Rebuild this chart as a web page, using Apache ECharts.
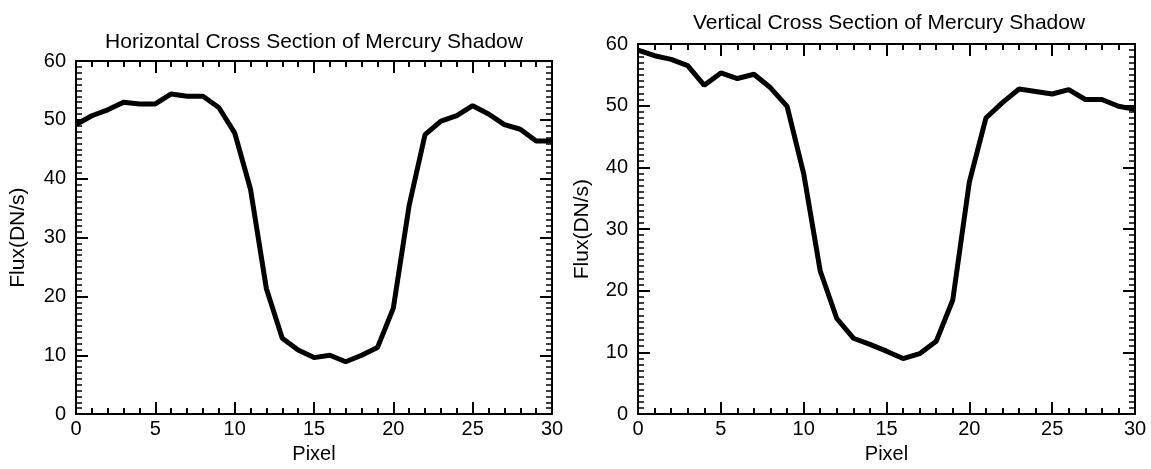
<!DOCTYPE html>
<html>
<head>
<meta charset="utf-8">
<title>Mercury Shadow Cross Sections</title>
<script src="https://cdn.jsdelivr.net/npm/echarts@6/dist/echarts.min.js"></script>
<style>
  html, body { margin: 0; padding: 0; background: #fff; }
  #main { width: 1151px; height: 469px; }
</style>
</head>
<body>
<div id="main"></div>
<script>
// data
var pixel = [0, 1, 2, 3, 4, 5, 6, 7, 8, 9, 10, 11, 12, 13, 14, 15, 16, 17, 18, 19, 20, 21, 22, 23, 24, 25, 26, 27, 28, 29, 30];
var horizFlux = [49.2, 50.7, 51.7, 53.0, 52.7, 52.7, 54.4, 54.0, 54.0, 52.1, 47.8, 38.2, 21.3, 12.9, 10.9, 9.6, 10.0, 8.9, 10.0, 11.3, 18.0, 35.5, 47.5, 49.8, 50.7, 52.4, 51.0, 49.2, 48.4, 46.4, 46.4];
var vertFlux = [59.0, 58.1, 57.5, 56.5, 53.3, 55.3, 54.4, 55.1, 52.9, 49.9, 39.0, 23.2, 15.5, 12.3, 11.3, 10.2, 9.0, 9.8, 11.8, 18.5, 37.6, 48.0, 50.5, 52.7, 52.3, 51.9, 52.6, 51.0, 51.0, 49.9, 49.4];
var titles = ['Horizontal Cross Section of Mercury Shadow', 'Vertical Cross Section of Mercury Shadow'];
var xName = 'Pixel';
var yName = 'Flux(DN/s)';

var font = 'Liberation Sans, Arial, Helvetica, sans-serif';

function pairs(xs, ys) {
  return xs.map(function (x, i) { return [x, ys[i]]; });
}

// one side of the boxed IDL-style frame
function xAx(grid, pos) {
  var main = pos === 'bottom';
  return {
    type: 'value', gridIndex: grid, position: pos,
    min: 0, max: 30, interval: 5,
    name: main ? xName : '', nameLocation: 'middle', nameGap: 27,
    nameTextStyle: { color: '#000', fontSize: 20, fontFamily: font },
    axisLine: { show: true, onZero: false, lineStyle: { color: '#000', width: 2 } },
    axisTick: { show: true, inside: true, length: 12, lineStyle: { color: '#000', width: 2 } },
    minorTick: { show: true, splitNumber: 5, length: 6, lineStyle: { color: '#000', width: 2 } },
    axisLabel: { show: main, margin: 5, color: '#000', fontSize: 20, fontFamily: font },
    splitLine: { show: false }
  };
}

function yAx(grid, pos, gap) {
  var main = pos === 'left';
  return {
    type: 'value', gridIndex: grid, position: pos,
    min: 0, max: 60, interval: 10,
    name: main ? yName : '', nameLocation: 'middle', nameGap: gap,
    nameTextStyle: { color: '#000', fontSize: 21, fontFamily: font },
    axisLine: { show: true, onZero: false, lineStyle: { color: '#000', width: 2 } },
    axisTick: { show: true, inside: true, length: 12, lineStyle: { color: '#000', width: 2 } },
    minorTick: { show: true, splitNumber: 10, length: 6, lineStyle: { color: '#000', width: 1.5 } },
    axisLabel: { show: main, margin: 10, color: '#000', fontSize: 20, fontFamily: font },
    splitLine: { show: false }
  };
}

var option = {
  backgroundColor: '#fff',
  animation: false,
  title: [
    { text: titles[0], left: 309, top: 27, textAlign: 'center',
      textStyle: { color: '#000', fontSize: 21, fontWeight: 'normal', fontFamily: font } },
    { text: titles[1], left: 884, top: 8, textAlign: 'center',
      textStyle: { color: '#000', fontSize: 21, fontWeight: 'normal', fontFamily: font } }
  ],
  grid: [
    { left: 76, top: 61, width: 476, height: 366 },
    { left: 638, top: 44, width: 497, height: 380 }
  ],
  xAxis: [xAx(0, 'bottom'), xAx(0, 'top'), xAx(1, 'bottom'), xAx(1, 'top')],
  yAxis: [yAx(0, 'left', 47), yAx(0, 'right', 0), yAx(1, 'left', 45), yAx(1, 'right', 0)],
  series: [
    {
      name: titles[0], type: 'line', xAxisIndex: 0, yAxisIndex: 0,
      showSymbol: false, lineStyle: { color: '#000', width: 5 },
      data: pairs(pixel, horizFlux)
    },
    {
      name: titles[1], type: 'line', xAxisIndex: 2, yAxisIndex: 2,
      showSymbol: false, lineStyle: { color: '#000', width: 5 },
      data: pairs(pixel, vertFlux)
    }
  ]
};

var myChart = echarts.init(document.getElementById('main'));
myChart.setOption(option);
</script>
</body>
</html>
